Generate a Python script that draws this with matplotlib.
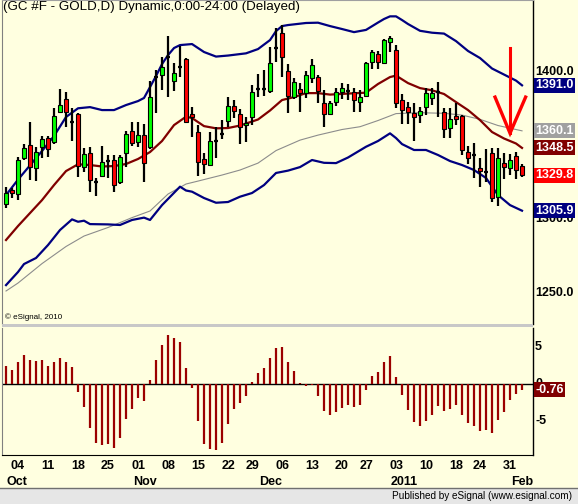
import matplotlib
matplotlib.use("Agg")
import matplotlib.pyplot as plt
import numpy as np
import pandas as pd
from matplotlib.patches import Rectangle

plt.rcParams["font.family"] = ["Liberation Sans", "DejaVu Sans"]

BG = "#FFFFE0"
NAVY = "#000080"
MAROON = "#800000"

# GC #F daily bars, 30 Sep 2010 - 02 Feb 2011
holidays = ["2010-11-25", "2010-12-24", "2011-01-17"]

opens = [1310.2, 1319.9, 1317.0, 1341.8, 1350.5, 1334.6, 1349.3, 1355.0, 1352.3, 1373.1,
         1381.7, 1366.2, 1371.3, 1335.7, 1344.8, 1325.5, 1329.6, 1339.8, 1340.3, 1325.5,
         1344.8, 1360.0, 1352.3, 1357.2, 1349.3, 1396.8, 1398.0, 1410.4, 1393.9, 1403.6,
         1408.6, 1371.3, 1359.5, 1340.7, 1336.9, 1353.4, 1357.9, 1366.7, 1377.1, 1371.7,
         1364.2, 1369.7, 1388.5, 1388.5, 1387.3, 1416.3, 1426.3, 1400.9, 1383.2, 1388.5,
         1386.0, 1395.7, 1396.4, 1378.8, 1371.5, 1379.4, 1386.6, 1387.3, 1386.2, 1379.4,
         1383.7, 1407.0, 1412.0, 1405.9, 1420.6, 1414.9, 1381.0, 1376.0, 1372.4, 1370.8,
         1376.4, 1382.1, 1386.6, 1373.1, 1361.8, 1370.1, 1370.1, 1345.9, 1343.7, 1334.6,
         1331.9, 1344.8, 1315.4, 1338.4, 1334.6, 1343.2, 1336.2]
highs = [1322.2, 1321.3, 1342.5, 1351.1, 1366.3, 1349.3, 1356.6, 1356.6, 1375.4, 1388.5,
         1386.2, 1375.4, 1372.0, 1348.2, 1349.3, 1328.3, 1349.8, 1343.7, 1343.7, 1343.7,
         1360.0, 1366.3, 1366.3, 1364.5, 1393.9, 1401.4, 1410.4, 1424.4, 1405.9, 1417.9,
         1409.7, 1376.4, 1364.0, 1344.8, 1359.1, 1362.9, 1367.4, 1382.8, 1381.0, 1374.7,
         1369.7, 1391.2, 1398.4, 1401.4, 1416.8, 1429.9, 1431.9, 1405.4, 1395.7, 1392.7,
         1400.7, 1408.6, 1398.0, 1387.8, 1380.2, 1388.9, 1392.7, 1391.9, 1388.9, 1387.8,
         1407.0, 1414.9, 1414.5, 1422.2, 1424.4, 1418.3, 1385.1, 1379.8, 1379.2, 1376.4,
         1388.9, 1388.9, 1393.0, 1375.8, 1375.8, 1379.2, 1370.8, 1349.8, 1351.6, 1341.4,
         1347.5, 1348.2, 1348.2, 1345.2, 1344.3, 1345.9, 1337.6]
lows = [1307.9, 1314.5, 1313.1, 1340.3, 1326.7, 1326.2, 1341.4, 1342.1, 1351.1, 1372.0,
        1362.9, 1353.4, 1328.9, 1331.9, 1318.8, 1316.0, 1329.0, 1327.9, 1318.8, 1323.8,
        1335.7, 1349.8, 1349.3, 1325.5, 1347.5, 1372.4, 1387.8, 1382.8, 1387.3, 1396.8,
        1365.6, 1355.7, 1329.6, 1330.6, 1336.4, 1341.4, 1354.5, 1362.9, 1369.0, 1350.9,
        1352.7, 1364.0, 1382.8, 1383.9, 1386.0, 1406.8, 1396.8, 1372.4, 1381.5, 1373.1,
        1382.1, 1392.7, 1378.8, 1362.5, 1371.0, 1377.1, 1381.5, 1381.0, 1373.1, 1373.1,
        1382.8, 1401.8, 1401.8, 1405.4, 1413.8, 1375.4, 1364.5, 1364.5, 1353.4, 1365.6,
        1370.8, 1377.6, 1369.7, 1355.0, 1355.0, 1364.0, 1343.7, 1337.6, 1327.9, 1322.2,
        1325.5, 1312.0, 1309.3, 1327.4, 1330.1, 1327.4, 1328.5]
closes = [1317.7, 1317.7, 1340.3, 1348.2, 1335.7, 1345.5, 1354.7, 1347.5, 1370.3, 1377.6,
          1372.6, 1366.2, 1336.4, 1344.1, 1326.7, 1325.5, 1338.7, 1339.8, 1323.3, 1342.1,
          1357.7, 1351.6, 1357.2, 1338.0, 1382.8, 1396.8, 1403.2, 1410.4, 1399.1, 1403.6,
          1365.9, 1369.3, 1339.1, 1337.4, 1353.2, 1353.4, 1357.9, 1377.1, 1373.7, 1362.9,
          1365.6, 1386.2, 1388.5, 1388.5, 1406.3, 1416.3, 1410.0, 1383.9, 1393.0, 1385.5,
          1398.0, 1404.8, 1387.1, 1371.5, 1379.2, 1386.2, 1388.9, 1387.3, 1381.0, 1382.8,
          1405.9, 1413.4, 1406.6, 1421.7, 1422.9, 1379.3, 1374.2, 1372.6, 1369.3, 1373.7,
          1385.5, 1386.0, 1386.6, 1361.3, 1367.9, 1368.3, 1347.1, 1341.4, 1343.7, 1332.8,
          1331.9, 1314.7, 1341.4, 1335.3, 1340.3, 1333.5, 1329.8]

# envelope lines, read at bar indices
upper_idx = [0, 2, 4, 6, 8, 10, 12, 14, 16, 18, 20, 22, 23, 24, 25, 26, 27, 28, 29, 31,
             33, 35, 37, 40, 42, 44, 45, 46, 47, 50, 52, 54, 56, 58, 60, 62, 63, 64, 65, 66,
             67, 69, 71, 73, 75, 77, 79, 81, 83, 85, 86]
upper_val = [1316.5, 1327.0, 1336.7, 1346.4, 1356.6, 1369.5, 1375.4, 1376.2, 1374.2, 1374.2,
             1377.6, 1380.3, 1382.4, 1389.8, 1397.3, 1405.4, 1411.5, 1416.3, 1418.3, 1419.0,
             1413.6, 1410.5, 1411.2, 1412.7, 1415.6, 1421.7, 1427.8, 1431.2, 1431.9, 1433.3,
             1433.5, 1431.2, 1429.2, 1427.1, 1428.6, 1433.6, 1436.0, 1437.8, 1437.8, 1435.3,
             1432.6, 1428.0, 1426.7, 1426.1, 1421.0, 1414.3, 1409.5, 1402.4, 1398.3, 1394.2,
             1391.0]
mid_idx = [0, 2, 4, 6, 8, 10, 12, 14, 16, 18, 20, 22, 24, 26, 28, 30, 31, 33, 35, 37,
           39, 42, 44, 46, 48, 50, 52, 54, 57, 60, 62, 64, 65, 67, 69, 71, 73, 75, 77, 79,
           81, 83, 85, 86]
mid_val = [1286.0, 1295.5, 1304.3, 1313.1, 1323.3, 1332.8, 1337.4, 1336.9, 1335.9, 1336.2,
           1337.6, 1341.0, 1345.7, 1353.2, 1364.0, 1369.7, 1368.8, 1363.3, 1361.8, 1362.0,
           1363.7, 1367.8, 1373.9, 1381.0, 1383.0, 1385.7, 1385.7, 1384.7, 1385.4, 1386.0,
           1391.9, 1396.6, 1397.6, 1392.5, 1389.1, 1387.6, 1385.1, 1379.6, 1374.2, 1367.4,
           1359.3, 1354.9, 1351.5, 1348.5]
lower_idx = [0, 2, 3, 5, 7, 9, 11, 12, 13, 14, 17, 19, 21, 23, 24, 26, 29, 30, 31, 33,
             35, 37, 39, 41, 43, 45, 47, 49, 51, 53, 55, 57, 60, 62, 64, 65, 66, 68, 70, 72,
             74, 76, 78, 80, 82, 84, 86]
lower_val = [1255.4, 1264.3, 1269.7, 1273.8, 1282.6, 1292.8, 1300.0, 1298.4, 1299.1, 1296.8,
             1296.6, 1296.2, 1299.6, 1301.2, 1299.6, 1309.7, 1322.2, 1319.6, 1318.8, 1314.5,
             1311.3, 1311.8, 1315.4, 1317.9, 1323.3, 1331.5, 1333.1, 1335.5, 1340.3, 1338.4,
             1338.2, 1342.0, 1349.3, 1353.2, 1358.4, 1355.2, 1351.1, 1347.1, 1347.1, 1343.7,
             1339.6, 1336.9, 1333.5, 1328.1, 1316.5, 1309.7, 1305.9]
slow_idx = [0, 2, 6, 10, 13, 17, 21, 24, 27, 30, 32, 36, 39, 42, 45, 49, 52, 56, 59, 62,
            65, 69, 73, 76, 79, 82, 86]
slow_val = [1251.4, 1256.8, 1270.0, 1281.6, 1288.7, 1294.5, 1301.2, 1305.7, 1317.2, 1324.0,
            1326.0, 1330.1, 1333.5, 1338.2, 1346.7, 1353.8, 1357.2, 1361.0, 1362.9, 1367.1,
            1371.8, 1372.4, 1372.0, 1370.8, 1367.9, 1363.7, 1360.1]

osc = [2.43, 1.89, 2.97, 3.96, 3.24, 3.11, 3.24, 2.43, 2.97, 3.51,
       2.97, 2.30, -1.04, -3.06, -5.90, -7.93, -8.20, -8.06, -8.60, -7.25,
       -4.68, -3.33, -1.85, -2.25, 0.54, 3.24, 5.27, 6.62, 6.17, 5.68,
       2.16, -0.50, -4.95, -8.06, -8.74, -8.87, -7.93, -5.36, -3.38, -2.52,
       -1.58, 0.27, 1.53, 2.21, 3.51, 4.86, 5.05, 2.97, 1.76, 0.18,
       -0.27, -0.18, -1.62, -3.60, -4.14, -3.74, -3.20, -2.84, -3.06, -2.79,
       -0.81, 1.08, 1.62, 2.97, 3.83, 0.95, -1.44, -3.51, -5.09, -5.63,
       -4.95, -4.14, -2.93, -3.60, -3.33, -2.84, -4.14, -5.23, -5.63, -6.31,
       -6.17, -6.58, -4.82, -3.74, -2.12, -1.31, -0.76]

price_ticks = [1400, 1300, 1250]
osc_ticks = [5, 0, -5]

dates = pd.bdate_range("2010-09-30", "2011-02-02")
dates = dates[~dates.isin(pd.to_datetime(holidays))]
x = np.arange(len(dates))

W, H = 578, 504
fig = plt.figure(figsize=(W / 100, H / 100), dpi=100, facecolor=BG)


def pix_box(top, bottom, left=2, right=533):
    return [left / W, 1 - bottom / H, (right - left) / W, (bottom - top) / H]


ax = fig.add_axes(pix_box(0, 324), facecolor=BG)
axo = fig.add_axes(pix_box(328, 455), facecolor=BG, sharex=ax)

for a in (ax, axo):
    a.set_xticks([])
    a.set_yticks([])
    a.spines["left"].set_color("#808080")
    a.spines["right"].set_color("black")
    a.spines["right"].set_linewidth(1.0)
ax.spines["top"].set_color("#A0A0A0")
ax.spines["bottom"].set_visible(False)
axo.spines["top"].set_visible(False)
axo.spines["bottom"].set_color("black")

ax.set_xlim(-0.67, 87.83)
ax.set_ylim(1229.0, 1448.9)
axo.set_ylim(-9.6, 7.57)

# bands and averages
ax.plot(slow_idx, slow_val, color="#8C8C8C", lw=0.8, zorder=2)
ax.plot(upper_idx, upper_val, color=NAVY, lw=1.6, zorder=2)
ax.plot(lower_idx, lower_val, color=NAVY, lw=1.6, zorder=2)
ax.plot(mid_idx, mid_val, color=MAROON, lw=1.6, zorder=2)

# candles
for i in x:
    o, h, l, c = opens[i], highs[i], lows[i], closes[i]
    ax.vlines(i, l, h, color="black", lw=1.6, zorder=3)
    if c == o:
        ax.hlines(c, i - 0.38, i + 0.38, color="black", lw=1.6, zorder=4)
    else:
        col = "#00FF00" if c > o else "#FF0000"
        ax.add_patch(Rectangle((i - 0.38, min(o, c)), 0.76, abs(c - o),
                               fc=col, ec="black", lw=0.8, zorder=4))

# red arrow annotation
arrow_x, arrow_top, arrow_tip, head_y = 84, 1416.0, 1358.5, 1383.0
ax.plot([arrow_x, arrow_x], [arrow_top, arrow_tip], color="#FF0000", lw=2.2, zorder=6)
ax.plot([arrow_x - 2.5, arrow_x, arrow_x + 2.6], [head_y, arrow_tip, head_y],
        color="#FF0000", lw=2.4, zorder=6, solid_joinstyle="miter")

ax.text(0.002, 0.996, "(GC #F - GOLD,D) Dynamic,0:00-24:00 (Delayed)",
        transform=ax.transAxes, ha="left", va="top", fontsize=9.6)
ax.text(0.006, 0.008, "\u00a9 eSignal, 2010", transform=ax.transAxes,
        ha="left", va="bottom", fontsize=5.8)

# oscillator histogram
axo.vlines(x, 0, osc, color="#9B0000", lw=1.6, zorder=3)
axo.axhline(0, color="black", lw=1.0, zorder=2)


def right_label(a, y, text, fc=None):
    kw = dict(transform=a.get_yaxis_transform(), ha="left", va="center",
              fontsize=9, fontweight="bold", clip_on=False, zorder=10)
    if fc is None:
        a.text(1.004, y, text, color="black", **kw)
    else:
        a.text(1.004, y, text, color="white",
               bbox=dict(boxstyle="square,pad=0.12", fc=fc, ec="none"), **kw)


for t in price_ticks:
    right_label(ax, t, f"{t:.1f}")
right_label(ax, upper_val[-1], f"{upper_val[-1]:.1f}", NAVY)
right_label(ax, slow_val[-1], f"{slow_val[-1]:.1f}", "#A0A0A0")
right_label(ax, mid_val[-1], f"{mid_val[-1]:.1f}", MAROON)
right_label(ax, closes[-1], f"{closes[-1]:.1f}", "#FF0000")
right_label(ax, lower_val[-1], f"{lower_val[-1]:.1f}", NAVY)

for t in osc_ticks:
    right_label(axo, t, f"{t}")
right_label(axo, osc[-1], f"{osc[-1]:.2f}", MAROON)

# date labels: first bar of each week, month names at first bar of month
tr = axo.get_xaxis_transform()
for i in x[1:]:
    d, prev = dates[i], dates[i - 1]
    if d.isocalendar()[1] != prev.isocalendar()[1]:
        axo.text(i, -0.087, f"{d.day:02d}", transform=tr, ha="center", va="center",
                 fontsize=9, fontweight="bold", clip_on=False)
    if d.month != prev.month:
        name = str(d.year) if d.month == 1 else d.strftime("%b")
        axo.text(i - 0.85, -0.213, name, transform=tr, ha="left", va="center",
                 fontsize=9, fontweight="bold", clip_on=False)

# panel separator and status bar
fig.patches.append(Rectangle((2 / W, 1 - 327 / H), 531 / W, 3 / H,
                             transform=fig.transFigure, fc="#C8C8C8", ec="none"))
fig.patches.append(Rectangle((0, 0), 1, 16 / H, transform=fig.transFigure,
                             fc="#E6E6E6", ec="none"))
fig.add_artist(plt.Line2D([0, 1], [16 / H, 16 / H], transform=fig.transFigure,
                          color="#707070", lw=1.0))
fig.text(572 / W, 8 / H, "Published by eSignal (www.esignal.com)",
         ha="right", va="center", fontsize=7.2)

fig.savefig("out.png", dpi=100, facecolor=BG)
